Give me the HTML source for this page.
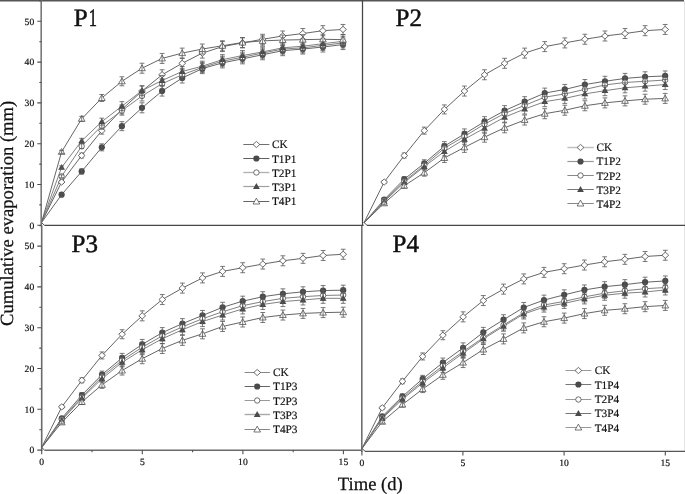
<!DOCTYPE html>
<html><head><meta charset="utf-8"><style>
html,body{margin:0;padding:0;background:#fff;}
body{width:685px;height:494px;overflow:hidden;}
svg{display:block;will-change:transform;}
text{font-family:"Liberation Serif",serif;fill:#111;text-rendering:geometricPrecision;}
.tk{font-size:9.6px;stroke:#111;stroke-width:0.2px;}
.lg{font-size:11.3px;stroke:#111;stroke-width:0.18px;}
.ti{font-size:25px;stroke:#111;stroke-width:0.5px;}
.at{font-size:18.6px;stroke:#111;stroke-width:0.25px;}
</style></head><body>
<svg width="685" height="494" viewBox="0 0 685 494">
<rect width="685" height="494" fill="#fff"/>
<path d="M41.5 222.6 L61.6 182.05 L81.7 155.53 L101.8 130.64 L121.9 109.43 L142 91.07 L162.1 74.75 L182.2 63.32 L202.3 53.12 L222.4 46.6 L242.5 42.92 L262.6 39.25 L282.7 35.99 L302.8 33.54 L322.9 30.68 L343 29.46" fill="none" stroke="#5e5e5e" stroke-width="0.95"/><path d="M41.5 222.6 L61.6 194.7 L81.7 171.44 L101.8 147.37 L121.9 126.16 L142 107.8 L162.1 91.07 L182.2 78.01 L202.3 68.63 L222.4 62.92 L242.5 58.84 L262.6 54.76 L282.7 50.68 L302.8 49.04 L322.9 47 L343 44.56" fill="none" stroke="#5e5e5e" stroke-width="0.95"/><path d="M41.5 222.6 L61.6 176.34 L81.7 146.15 L101.8 125.75 L121.9 110.65 L142 95.96 L162.1 83.72 L182.2 74.75 L202.3 67.4 L222.4 61.28 L242.5 57.2 L262.6 53.12 L282.7 49.04 L302.8 47.82 L322.9 45.37 L343 42.92" fill="none" stroke="#7a7a7a" stroke-width="0.95"/><path d="M41.5 222.6 L61.6 167.36 L81.7 140.84 L101.8 121.67 L121.9 106.16 L142 90.66 L162.1 80.46 L182.2 71.48 L202.3 66.18 L222.4 59.65 L242.5 55.57 L262.6 51.9 L282.7 47.82 L302.8 46.19 L322.9 43.74 L343 41.29" fill="none" stroke="#7a7a7a" stroke-width="0.95"/><path d="M41.5 222.6 L61.6 151.86 L81.7 118.81 L101.8 98 L121.9 81.28 L142 68.22 L162.1 58.43 L182.2 53.12 L202.3 49.04 L222.4 45.78 L242.5 42.52 L262.6 40.88 L282.7 40.07 L302.8 39.66 L322.9 39.25 L343 39.66" fill="none" stroke="#5e5e5e" stroke-width="0.95"/><path d="M61.6 180.55V183.55M59.2 180.55H64M59.2 183.55H64M81.7 153.03V158.03M79.3 153.03H84.1M79.3 158.03H84.1M101.8 127.14V134.14M99.4 127.14H104.2M99.4 134.14H104.2M121.9 104.93V113.93M119.5 104.93H124.3M119.5 113.93H124.3M142 86.07V96.07M139.6 86.07H144.4M139.6 96.07H144.4M162.1 69.75V79.75M159.7 69.75H164.5M159.7 79.75H164.5M182.2 58.32V68.32M179.8 58.32H184.6M179.8 68.32H184.6M202.3 48.12V58.12M199.9 48.12H204.7M199.9 58.12H204.7M222.4 41.6V51.6M220 41.6H224.8M220 51.6H224.8M242.5 37.92V47.92M240.1 37.92H244.9M240.1 47.92H244.9M262.6 34.25V44.25M260.2 34.25H265M260.2 44.25H265M282.7 30.99V40.99M280.3 30.99H285.1M280.3 40.99H285.1M302.8 28.54V38.54M300.4 28.54H305.2M300.4 38.54H305.2M322.9 25.68V35.68M320.5 25.68H325.3M320.5 35.68H325.3M343 24.46V34.46M340.6 24.46H345.4M340.6 34.46H345.4" fill="none" stroke="#585858" stroke-width="0.8"/><path d="M61.6 178.95L65 182.05L61.6 185.15L58.2 182.05Z" fill="#fff" stroke="#4a4a4a" stroke-width="0.8"/><path d="M81.7 152.43L85.1 155.53L81.7 158.63L78.3 155.53Z" fill="#fff" stroke="#4a4a4a" stroke-width="0.8"/><path d="M101.8 127.54L105.2 130.64L101.8 133.74L98.4 130.64Z" fill="#fff" stroke="#4a4a4a" stroke-width="0.8"/><path d="M121.9 106.33L125.3 109.43L121.9 112.53L118.5 109.43Z" fill="#fff" stroke="#4a4a4a" stroke-width="0.8"/><path d="M142 87.97L145.4 91.07L142 94.17L138.6 91.07Z" fill="#fff" stroke="#4a4a4a" stroke-width="0.8"/><path d="M162.1 71.65L165.5 74.75L162.1 77.85L158.7 74.75Z" fill="#fff" stroke="#4a4a4a" stroke-width="0.8"/><path d="M182.2 60.22L185.6 63.32L182.2 66.42L178.8 63.32Z" fill="#fff" stroke="#4a4a4a" stroke-width="0.8"/><path d="M202.3 50.02L205.7 53.12L202.3 56.22L198.9 53.12Z" fill="#fff" stroke="#4a4a4a" stroke-width="0.8"/><path d="M222.4 43.5L225.8 46.6L222.4 49.7L219 46.6Z" fill="#fff" stroke="#4a4a4a" stroke-width="0.8"/><path d="M242.5 39.82L245.9 42.92L242.5 46.02L239.1 42.92Z" fill="#fff" stroke="#4a4a4a" stroke-width="0.8"/><path d="M262.6 36.15L266 39.25L262.6 42.35L259.2 39.25Z" fill="#fff" stroke="#4a4a4a" stroke-width="0.8"/><path d="M282.7 32.89L286.1 35.99L282.7 39.09L279.3 35.99Z" fill="#fff" stroke="#4a4a4a" stroke-width="0.8"/><path d="M302.8 30.44L306.2 33.54L302.8 36.64L299.4 33.54Z" fill="#fff" stroke="#4a4a4a" stroke-width="0.8"/><path d="M322.9 27.58L326.3 30.68L322.9 33.78L319.5 30.68Z" fill="#fff" stroke="#4a4a4a" stroke-width="0.8"/><path d="M343 26.36L346.4 29.46L343 32.56L339.6 29.46Z" fill="#fff" stroke="#4a4a4a" stroke-width="0.8"/><circle cx="61.6" cy="194.7" r="3.1" fill="#4a4a4a"/><circle cx="81.7" cy="171.44" r="3.1" fill="#4a4a4a"/><circle cx="101.8" cy="147.37" r="3.1" fill="#4a4a4a"/><circle cx="121.9" cy="126.16" r="3.1" fill="#4a4a4a"/><circle cx="142" cy="107.8" r="3.1" fill="#4a4a4a"/><circle cx="162.1" cy="91.07" r="3.1" fill="#4a4a4a"/><circle cx="182.2" cy="78.01" r="3.1" fill="#4a4a4a"/><circle cx="202.3" cy="68.63" r="3.1" fill="#4a4a4a"/><circle cx="222.4" cy="62.92" r="3.1" fill="#4a4a4a"/><circle cx="242.5" cy="58.84" r="3.1" fill="#4a4a4a"/><circle cx="262.6" cy="54.76" r="3.1" fill="#4a4a4a"/><circle cx="282.7" cy="50.68" r="3.1" fill="#4a4a4a"/><circle cx="302.8" cy="49.04" r="3.1" fill="#4a4a4a"/><circle cx="322.9" cy="47" r="3.1" fill="#4a4a4a"/><circle cx="343" cy="44.56" r="3.1" fill="#4a4a4a"/><path d="M61.6 193.2V196.2M59.2 193.2H64M59.2 196.2H64M81.7 168.94V173.94M79.3 168.94H84.1M79.3 173.94H84.1M101.8 143.87V150.87M99.4 143.87H104.2M99.4 150.87H104.2M121.9 121.66V130.66M119.5 121.66H124.3M119.5 130.66H124.3M142 102.8V112.8M139.6 102.8H144.4M139.6 112.8H144.4M162.1 86.07V96.07M159.7 86.07H164.5M159.7 96.07H164.5M182.2 73.01V83.01M179.8 73.01H184.6M179.8 83.01H184.6M202.3 63.63V73.63M199.9 63.63H204.7M199.9 73.63H204.7M222.4 57.92V67.92M220 57.92H224.8M220 67.92H224.8M242.5 53.84V63.84M240.1 53.84H244.9M240.1 63.84H244.9M262.6 49.76V59.76M260.2 49.76H265M260.2 59.76H265M282.7 45.68V55.68M280.3 45.68H285.1M280.3 55.68H285.1M302.8 44.04V54.04M300.4 44.04H305.2M300.4 54.04H305.2M322.9 42V52M320.5 42H325.3M320.5 52H325.3M343 39.56V49.56M340.6 39.56H345.4M340.6 49.56H345.4" fill="none" stroke="#585858" stroke-width="0.8"/><circle cx="61.6" cy="176.34" r="2.7" fill="#fff" stroke="#4a4a4a" stroke-width="0.8"/><circle cx="81.7" cy="146.15" r="2.7" fill="#fff" stroke="#4a4a4a" stroke-width="0.8"/><circle cx="101.8" cy="125.75" r="2.7" fill="#fff" stroke="#4a4a4a" stroke-width="0.8"/><circle cx="121.9" cy="110.65" r="2.7" fill="#fff" stroke="#4a4a4a" stroke-width="0.8"/><circle cx="142" cy="95.96" r="2.7" fill="#fff" stroke="#4a4a4a" stroke-width="0.8"/><circle cx="162.1" cy="83.72" r="2.7" fill="#fff" stroke="#4a4a4a" stroke-width="0.8"/><circle cx="182.2" cy="74.75" r="2.7" fill="#fff" stroke="#4a4a4a" stroke-width="0.8"/><circle cx="202.3" cy="67.4" r="2.7" fill="#fff" stroke="#4a4a4a" stroke-width="0.8"/><circle cx="222.4" cy="61.28" r="2.7" fill="#fff" stroke="#4a4a4a" stroke-width="0.8"/><circle cx="242.5" cy="57.2" r="2.7" fill="#fff" stroke="#4a4a4a" stroke-width="0.8"/><circle cx="262.6" cy="53.12" r="2.7" fill="#fff" stroke="#4a4a4a" stroke-width="0.8"/><circle cx="282.7" cy="49.04" r="2.7" fill="#fff" stroke="#4a4a4a" stroke-width="0.8"/><circle cx="302.8" cy="47.82" r="2.7" fill="#fff" stroke="#4a4a4a" stroke-width="0.8"/><circle cx="322.9" cy="45.37" r="2.7" fill="#fff" stroke="#4a4a4a" stroke-width="0.8"/><circle cx="343" cy="42.92" r="2.7" fill="#fff" stroke="#4a4a4a" stroke-width="0.8"/><path d="M61.6 174.84V177.84M59.2 174.84H64M59.2 177.84H64M81.7 143.65V148.65M79.3 143.65H84.1M79.3 148.65H84.1M101.8 122.25V129.25M99.4 122.25H104.2M99.4 129.25H104.2M121.9 106.15V115.15M119.5 106.15H124.3M119.5 115.15H124.3M142 90.96V100.96M139.6 90.96H144.4M139.6 100.96H144.4M162.1 78.72V88.72M159.7 78.72H164.5M159.7 88.72H164.5M182.2 69.75V79.75M179.8 69.75H184.6M179.8 79.75H184.6M202.3 62.4V72.4M199.9 62.4H204.7M199.9 72.4H204.7M222.4 56.28V66.28M220 56.28H224.8M220 66.28H224.8M242.5 52.2V62.2M240.1 52.2H244.9M240.1 62.2H244.9M262.6 48.12V58.12M260.2 48.12H265M260.2 58.12H265M282.7 44.04V54.04M280.3 44.04H285.1M280.3 54.04H285.1M302.8 42.82V52.82M300.4 42.82H305.2M300.4 52.82H305.2M322.9 40.37V50.37M320.5 40.37H325.3M320.5 50.37H325.3M343 37.92V47.92M340.6 37.92H345.4M340.6 47.92H345.4" fill="none" stroke="#585858" stroke-width="0.8"/><path d="M61.6 163.96L65 169.81L58.2 169.81Z" fill="#4a4a4a"/><path d="M81.7 137.44L85.1 143.29L78.3 143.29Z" fill="#4a4a4a"/><path d="M101.8 118.27L105.2 124.12L98.4 124.12Z" fill="#4a4a4a"/><path d="M121.9 102.76L125.3 108.61L118.5 108.61Z" fill="#4a4a4a"/><path d="M142 87.26L145.4 93.11L138.6 93.11Z" fill="#4a4a4a"/><path d="M162.1 77.06L165.5 82.91L158.7 82.91Z" fill="#4a4a4a"/><path d="M182.2 68.08L185.6 73.93L178.8 73.93Z" fill="#4a4a4a"/><path d="M202.3 62.78L205.7 68.63L198.9 68.63Z" fill="#4a4a4a"/><path d="M222.4 56.25L225.8 62.1L219 62.1Z" fill="#4a4a4a"/><path d="M242.5 52.17L245.9 58.02L239.1 58.02Z" fill="#4a4a4a"/><path d="M262.6 48.5L266 54.35L259.2 54.35Z" fill="#4a4a4a"/><path d="M282.7 44.42L286.1 50.27L279.3 50.27Z" fill="#4a4a4a"/><path d="M302.8 42.79L306.2 48.64L299.4 48.64Z" fill="#4a4a4a"/><path d="M322.9 40.34L326.3 46.19L319.5 46.19Z" fill="#4a4a4a"/><path d="M343 37.89L346.4 43.74L339.6 43.74Z" fill="#4a4a4a"/><path d="M61.6 165.86V168.86M59.2 165.86H64M59.2 168.86H64M81.7 138.34V143.34M79.3 138.34H84.1M79.3 143.34H84.1M101.8 118.17V125.17M99.4 118.17H104.2M99.4 125.17H104.2M121.9 101.66V110.66M119.5 101.66H124.3M119.5 110.66H124.3M142 85.66V95.66M139.6 85.66H144.4M139.6 95.66H144.4M162.1 75.46V85.46M159.7 75.46H164.5M159.7 85.46H164.5M182.2 66.48V76.48M179.8 66.48H184.6M179.8 76.48H184.6M202.3 61.18V71.18M199.9 61.18H204.7M199.9 71.18H204.7M222.4 54.65V64.65M220 54.65H224.8M220 64.65H224.8M242.5 50.57V60.57M240.1 50.57H244.9M240.1 60.57H244.9M262.6 46.9V56.9M260.2 46.9H265M260.2 56.9H265M282.7 42.82V52.82M280.3 42.82H285.1M280.3 52.82H285.1M302.8 41.19V51.19M300.4 41.19H305.2M300.4 51.19H305.2M322.9 38.74V48.74M320.5 38.74H325.3M320.5 48.74H325.3M343 36.29V46.29M340.6 36.29H345.4M340.6 46.29H345.4" fill="none" stroke="#585858" stroke-width="0.8"/><path d="M61.6 148.51L64.95 154.37L58.25 154.37Z" fill="#fff" stroke="#4a4a4a" stroke-width="0.75"/><path d="M81.7 115.46L85.05 121.32L78.35 121.32Z" fill="#fff" stroke="#4a4a4a" stroke-width="0.75"/><path d="M101.8 94.65L105.15 100.52L98.45 100.52Z" fill="#fff" stroke="#4a4a4a" stroke-width="0.75"/><path d="M121.9 77.93L125.25 83.79L118.55 83.79Z" fill="#fff" stroke="#4a4a4a" stroke-width="0.75"/><path d="M142 64.87L145.35 70.73L138.65 70.73Z" fill="#fff" stroke="#4a4a4a" stroke-width="0.75"/><path d="M162.1 55.08L165.45 60.94L158.75 60.94Z" fill="#fff" stroke="#4a4a4a" stroke-width="0.75"/><path d="M182.2 49.77L185.55 55.64L178.85 55.64Z" fill="#fff" stroke="#4a4a4a" stroke-width="0.75"/><path d="M202.3 45.69L205.65 51.56L198.95 51.56Z" fill="#fff" stroke="#4a4a4a" stroke-width="0.75"/><path d="M222.4 42.43L225.75 48.29L219.05 48.29Z" fill="#fff" stroke="#4a4a4a" stroke-width="0.75"/><path d="M242.5 39.17L245.85 45.03L239.15 45.03Z" fill="#fff" stroke="#4a4a4a" stroke-width="0.75"/><path d="M262.6 37.53L265.95 43.4L259.25 43.4Z" fill="#fff" stroke="#4a4a4a" stroke-width="0.75"/><path d="M282.7 36.72L286.05 42.58L279.35 42.58Z" fill="#fff" stroke="#4a4a4a" stroke-width="0.75"/><path d="M302.8 36.31L306.15 42.17L299.45 42.17Z" fill="#fff" stroke="#4a4a4a" stroke-width="0.75"/><path d="M322.9 35.9L326.25 41.76L319.55 41.76Z" fill="#fff" stroke="#4a4a4a" stroke-width="0.75"/><path d="M343 36.31L346.35 42.17L339.65 42.17Z" fill="#fff" stroke="#4a4a4a" stroke-width="0.75"/><path d="M61.6 150.36V153.36M59.2 150.36H64M59.2 153.36H64M81.7 116.31V121.31M79.3 116.31H84.1M79.3 121.31H84.1M101.8 94.5V101.5M99.4 94.5H104.2M99.4 101.5H104.2M121.9 76.78V85.78M119.5 76.78H124.3M119.5 85.78H124.3M142 63.22V73.22M139.6 63.22H144.4M139.6 73.22H144.4M162.1 53.43V63.43M159.7 53.43H164.5M159.7 63.43H164.5M182.2 48.12V58.12M179.8 48.12H184.6M179.8 58.12H184.6M202.3 44.04V54.04M199.9 44.04H204.7M199.9 54.04H204.7M222.4 40.78V50.78M220 40.78H224.8M220 50.78H224.8M242.5 37.52V47.52M240.1 37.52H244.9M240.1 47.52H244.9M262.6 35.88V45.88M260.2 35.88H265M260.2 45.88H265M282.7 35.07V45.07M280.3 35.07H285.1M280.3 45.07H285.1M302.8 34.66V44.66M300.4 34.66H305.2M300.4 44.66H305.2M322.9 34.25V44.25M320.5 34.25H325.3M320.5 44.25H325.3M343 34.66V44.66M340.6 34.66H345.4M340.6 44.66H345.4" fill="none" stroke="#585858" stroke-width="0.8"/><path d="M364.1 222.6 L384.17 182.05 L404.24 155.53 L424.31 130.64 L444.38 109.43 L464.45 91.07 L484.52 74.75 L504.59 63.32 L524.66 53.12 L544.73 46.6 L564.8 42.92 L584.87 39.25 L604.94 35.99 L625.01 33.54 L645.08 30.68 L665.15 29.46" fill="none" stroke="#5e5e5e" stroke-width="0.95"/><path d="M364.1 222.6 L384.17 199.6 L404.24 179.2 L424.31 163.28 L444.38 146.15 L464.45 133.91 L484.52 121.67 L504.59 110.65 L524.66 101.68 L544.73 93.11 L564.8 89.44 L584.87 84.54 L604.94 81.28 L625.01 78.42 L645.08 76.79 L665.15 75.97" fill="none" stroke="#5e5e5e" stroke-width="0.95"/><path d="M364.1 222.6 L384.17 200.82 L404.24 181.24 L424.31 165.32 L444.38 148.19 L464.45 136.36 L484.52 124.12 L504.59 113.51 L524.66 105.35 L544.73 97.19 L564.8 93.92 L584.87 89.44 L604.94 84.95 L625.01 82.5 L645.08 81.28 L665.15 80.05" fill="none" stroke="#7a7a7a" stroke-width="0.95"/><path d="M364.1 222.6 L384.17 201.64 L404.24 182.46 L424.31 166.55 L444.38 151.45 L464.45 139.21 L484.52 128.2 L504.59 117.18 L524.66 109.02 L544.73 101.68 L564.8 98.41 L584.87 93.92 L604.94 90.66 L625.01 87.8 L645.08 86.17 L665.15 84.54" fill="none" stroke="#7a7a7a" stroke-width="0.95"/><path d="M364.1 222.6 L384.17 203.27 L404.24 185.72 L424.31 172.67 L444.38 157.98 L464.45 147.37 L484.52 137.17 L504.59 127.79 L524.66 120.04 L544.73 113.71 L564.8 110.24 L584.87 105.76 L604.94 102.9 L625.01 100.86 L645.08 99.23 L665.15 98.41" fill="none" stroke="#5e5e5e" stroke-width="0.95"/><path d="M384.17 180.55V183.55M381.77 180.55H386.57M381.77 183.55H386.57M404.24 153.03V158.03M401.84 153.03H406.64M401.84 158.03H406.64M424.31 127.14V134.14M421.91 127.14H426.71M421.91 134.14H426.71M444.38 104.93V113.93M441.98 104.93H446.78M441.98 113.93H446.78M464.45 86.07V96.07M462.05 86.07H466.85M462.05 96.07H466.85M484.52 69.75V79.75M482.12 69.75H486.92M482.12 79.75H486.92M504.59 58.32V68.32M502.19 58.32H506.99M502.19 68.32H506.99M524.66 48.12V58.12M522.26 48.12H527.06M522.26 58.12H527.06M544.73 41.6V51.6M542.33 41.6H547.13M542.33 51.6H547.13M564.8 37.92V47.92M562.4 37.92H567.2M562.4 47.92H567.2M584.87 34.25V44.25M582.47 34.25H587.27M582.47 44.25H587.27M604.94 30.99V40.99M602.54 30.99H607.34M602.54 40.99H607.34M625.01 28.54V38.54M622.61 28.54H627.41M622.61 38.54H627.41M645.08 25.68V35.68M642.68 25.68H647.48M642.68 35.68H647.48M665.15 24.46V34.46M662.75 24.46H667.55M662.75 34.46H667.55" fill="none" stroke="#585858" stroke-width="0.8"/><path d="M384.17 178.95L387.57 182.05L384.17 185.15L380.77 182.05Z" fill="#fff" stroke="#4a4a4a" stroke-width="0.8"/><path d="M404.24 152.43L407.64 155.53L404.24 158.63L400.84 155.53Z" fill="#fff" stroke="#4a4a4a" stroke-width="0.8"/><path d="M424.31 127.54L427.71 130.64L424.31 133.74L420.91 130.64Z" fill="#fff" stroke="#4a4a4a" stroke-width="0.8"/><path d="M444.38 106.33L447.78 109.43L444.38 112.53L440.98 109.43Z" fill="#fff" stroke="#4a4a4a" stroke-width="0.8"/><path d="M464.45 87.97L467.85 91.07L464.45 94.17L461.05 91.07Z" fill="#fff" stroke="#4a4a4a" stroke-width="0.8"/><path d="M484.52 71.65L487.92 74.75L484.52 77.85L481.12 74.75Z" fill="#fff" stroke="#4a4a4a" stroke-width="0.8"/><path d="M504.59 60.22L507.99 63.32L504.59 66.42L501.19 63.32Z" fill="#fff" stroke="#4a4a4a" stroke-width="0.8"/><path d="M524.66 50.02L528.06 53.12L524.66 56.22L521.26 53.12Z" fill="#fff" stroke="#4a4a4a" stroke-width="0.8"/><path d="M544.73 43.5L548.13 46.6L544.73 49.7L541.33 46.6Z" fill="#fff" stroke="#4a4a4a" stroke-width="0.8"/><path d="M564.8 39.82L568.2 42.92L564.8 46.02L561.4 42.92Z" fill="#fff" stroke="#4a4a4a" stroke-width="0.8"/><path d="M584.87 36.15L588.27 39.25L584.87 42.35L581.47 39.25Z" fill="#fff" stroke="#4a4a4a" stroke-width="0.8"/><path d="M604.94 32.89L608.34 35.99L604.94 39.09L601.54 35.99Z" fill="#fff" stroke="#4a4a4a" stroke-width="0.8"/><path d="M625.01 30.44L628.41 33.54L625.01 36.64L621.61 33.54Z" fill="#fff" stroke="#4a4a4a" stroke-width="0.8"/><path d="M645.08 27.58L648.48 30.68L645.08 33.78L641.68 30.68Z" fill="#fff" stroke="#4a4a4a" stroke-width="0.8"/><path d="M665.15 26.36L668.55 29.46L665.15 32.56L661.75 29.46Z" fill="#fff" stroke="#4a4a4a" stroke-width="0.8"/><circle cx="384.17" cy="199.6" r="3.1" fill="#4a4a4a"/><circle cx="404.24" cy="179.2" r="3.1" fill="#4a4a4a"/><circle cx="424.31" cy="163.28" r="3.1" fill="#4a4a4a"/><circle cx="444.38" cy="146.15" r="3.1" fill="#4a4a4a"/><circle cx="464.45" cy="133.91" r="3.1" fill="#4a4a4a"/><circle cx="484.52" cy="121.67" r="3.1" fill="#4a4a4a"/><circle cx="504.59" cy="110.65" r="3.1" fill="#4a4a4a"/><circle cx="524.66" cy="101.68" r="3.1" fill="#4a4a4a"/><circle cx="544.73" cy="93.11" r="3.1" fill="#4a4a4a"/><circle cx="564.8" cy="89.44" r="3.1" fill="#4a4a4a"/><circle cx="584.87" cy="84.54" r="3.1" fill="#4a4a4a"/><circle cx="604.94" cy="81.28" r="3.1" fill="#4a4a4a"/><circle cx="625.01" cy="78.42" r="3.1" fill="#4a4a4a"/><circle cx="645.08" cy="76.79" r="3.1" fill="#4a4a4a"/><circle cx="665.15" cy="75.97" r="3.1" fill="#4a4a4a"/><path d="M384.17 198.1V201.1M381.77 198.1H386.57M381.77 201.1H386.57M404.24 176.7V181.7M401.84 176.7H406.64M401.84 181.7H406.64M424.31 159.78V166.78M421.91 159.78H426.71M421.91 166.78H426.71M444.38 141.65V150.65M441.98 141.65H446.78M441.98 150.65H446.78M464.45 128.91V138.91M462.05 128.91H466.85M462.05 138.91H466.85M484.52 116.67V126.67M482.12 116.67H486.92M482.12 126.67H486.92M504.59 105.65V115.65M502.19 105.65H506.99M502.19 115.65H506.99M524.66 96.68V106.68M522.26 96.68H527.06M522.26 106.68H527.06M544.73 88.11V98.11M542.33 88.11H547.13M542.33 98.11H547.13M564.8 84.44V94.44M562.4 84.44H567.2M562.4 94.44H567.2M584.87 79.54V89.54M582.47 79.54H587.27M582.47 89.54H587.27M604.94 76.28V86.28M602.54 76.28H607.34M602.54 86.28H607.34M625.01 73.42V83.42M622.61 73.42H627.41M622.61 83.42H627.41M645.08 71.79V81.79M642.68 71.79H647.48M642.68 81.79H647.48M665.15 70.97V80.97M662.75 70.97H667.55M662.75 80.97H667.55" fill="none" stroke="#585858" stroke-width="0.8"/><circle cx="384.17" cy="200.82" r="2.7" fill="#fff" stroke="#4a4a4a" stroke-width="0.8"/><circle cx="404.24" cy="181.24" r="2.7" fill="#fff" stroke="#4a4a4a" stroke-width="0.8"/><circle cx="424.31" cy="165.32" r="2.7" fill="#fff" stroke="#4a4a4a" stroke-width="0.8"/><circle cx="444.38" cy="148.19" r="2.7" fill="#fff" stroke="#4a4a4a" stroke-width="0.8"/><circle cx="464.45" cy="136.36" r="2.7" fill="#fff" stroke="#4a4a4a" stroke-width="0.8"/><circle cx="484.52" cy="124.12" r="2.7" fill="#fff" stroke="#4a4a4a" stroke-width="0.8"/><circle cx="504.59" cy="113.51" r="2.7" fill="#fff" stroke="#4a4a4a" stroke-width="0.8"/><circle cx="524.66" cy="105.35" r="2.7" fill="#fff" stroke="#4a4a4a" stroke-width="0.8"/><circle cx="544.73" cy="97.19" r="2.7" fill="#fff" stroke="#4a4a4a" stroke-width="0.8"/><circle cx="564.8" cy="93.92" r="2.7" fill="#fff" stroke="#4a4a4a" stroke-width="0.8"/><circle cx="584.87" cy="89.44" r="2.7" fill="#fff" stroke="#4a4a4a" stroke-width="0.8"/><circle cx="604.94" cy="84.95" r="2.7" fill="#fff" stroke="#4a4a4a" stroke-width="0.8"/><circle cx="625.01" cy="82.5" r="2.7" fill="#fff" stroke="#4a4a4a" stroke-width="0.8"/><circle cx="645.08" cy="81.28" r="2.7" fill="#fff" stroke="#4a4a4a" stroke-width="0.8"/><circle cx="665.15" cy="80.05" r="2.7" fill="#fff" stroke="#4a4a4a" stroke-width="0.8"/><path d="M384.17 199.32V202.32M381.77 199.32H386.57M381.77 202.32H386.57M404.24 178.74V183.74M401.84 178.74H406.64M401.84 183.74H406.64M424.31 161.82V168.82M421.91 161.82H426.71M421.91 168.82H426.71M444.38 143.69V152.69M441.98 143.69H446.78M441.98 152.69H446.78M464.45 131.36V141.36M462.05 131.36H466.85M462.05 141.36H466.85M484.52 119.12V129.12M482.12 119.12H486.92M482.12 129.12H486.92M504.59 108.51V118.51M502.19 108.51H506.99M502.19 118.51H506.99M524.66 100.35V110.35M522.26 100.35H527.06M522.26 110.35H527.06M544.73 92.19V102.19M542.33 92.19H547.13M542.33 102.19H547.13M564.8 88.92V98.92M562.4 88.92H567.2M562.4 98.92H567.2M584.87 84.44V94.44M582.47 84.44H587.27M582.47 94.44H587.27M604.94 79.95V89.95M602.54 79.95H607.34M602.54 89.95H607.34M625.01 77.5V87.5M622.61 77.5H627.41M622.61 87.5H627.41M645.08 76.28V86.28M642.68 76.28H647.48M642.68 86.28H647.48M665.15 75.05V85.05M662.75 75.05H667.55M662.75 85.05H667.55" fill="none" stroke="#585858" stroke-width="0.8"/><path d="M384.17 198.24L387.57 204.08L380.77 204.08Z" fill="#4a4a4a"/><path d="M404.24 179.06L407.64 184.91L400.84 184.91Z" fill="#4a4a4a"/><path d="M424.31 163.15L427.71 169L420.91 169Z" fill="#4a4a4a"/><path d="M444.38 148.05L447.78 153.9L440.98 153.9Z" fill="#4a4a4a"/><path d="M464.45 135.81L467.85 141.66L461.05 141.66Z" fill="#4a4a4a"/><path d="M484.52 124.8L487.92 130.64L481.12 130.64Z" fill="#4a4a4a"/><path d="M504.59 113.78L507.99 119.63L501.19 119.63Z" fill="#4a4a4a"/><path d="M524.66 105.62L528.06 111.47L521.26 111.47Z" fill="#4a4a4a"/><path d="M544.73 98.28L548.13 104.12L541.33 104.12Z" fill="#4a4a4a"/><path d="M564.8 95.01L568.2 100.86L561.4 100.86Z" fill="#4a4a4a"/><path d="M584.87 90.52L588.27 96.37L581.47 96.37Z" fill="#4a4a4a"/><path d="M604.94 87.26L608.34 93.11L601.54 93.11Z" fill="#4a4a4a"/><path d="M625.01 84.4L628.41 90.25L621.61 90.25Z" fill="#4a4a4a"/><path d="M645.08 82.77L648.48 88.62L641.68 88.62Z" fill="#4a4a4a"/><path d="M665.15 81.14L668.55 86.99L661.75 86.99Z" fill="#4a4a4a"/><path d="M384.17 200.14V203.14M381.77 200.14H386.57M381.77 203.14H386.57M404.24 179.96V184.96M401.84 179.96H406.64M401.84 184.96H406.64M424.31 163.05V170.05M421.91 163.05H426.71M421.91 170.05H426.71M444.38 146.95V155.95M441.98 146.95H446.78M441.98 155.95H446.78M464.45 134.21V144.21M462.05 134.21H466.85M462.05 144.21H466.85M484.52 123.2V133.2M482.12 123.2H486.92M482.12 133.2H486.92M504.59 112.18V122.18M502.19 112.18H506.99M502.19 122.18H506.99M524.66 104.02V114.02M522.26 104.02H527.06M522.26 114.02H527.06M544.73 96.68V106.68M542.33 96.68H547.13M542.33 106.68H547.13M564.8 93.41V103.41M562.4 93.41H567.2M562.4 103.41H567.2M584.87 88.92V98.92M582.47 88.92H587.27M582.47 98.92H587.27M604.94 85.66V95.66M602.54 85.66H607.34M602.54 95.66H607.34M625.01 82.8V92.8M622.61 82.8H627.41M622.61 92.8H627.41M645.08 81.17V91.17M642.68 81.17H647.48M642.68 91.17H647.48M665.15 79.54V89.54M662.75 79.54H667.55M662.75 89.54H667.55" fill="none" stroke="#585858" stroke-width="0.8"/><path d="M384.17 199.92L387.52 205.78L380.82 205.78Z" fill="#fff" stroke="#4a4a4a" stroke-width="0.75"/><path d="M404.24 182.37L407.59 188.24L400.89 188.24Z" fill="#fff" stroke="#4a4a4a" stroke-width="0.75"/><path d="M424.31 169.32L427.66 175.18L420.96 175.18Z" fill="#fff" stroke="#4a4a4a" stroke-width="0.75"/><path d="M444.38 154.63L447.73 160.49L441.03 160.49Z" fill="#fff" stroke="#4a4a4a" stroke-width="0.75"/><path d="M464.45 144.02L467.8 149.88L461.1 149.88Z" fill="#fff" stroke="#4a4a4a" stroke-width="0.75"/><path d="M484.52 133.82L487.87 139.68L481.17 139.68Z" fill="#fff" stroke="#4a4a4a" stroke-width="0.75"/><path d="M504.59 124.44L507.94 130.3L501.24 130.3Z" fill="#fff" stroke="#4a4a4a" stroke-width="0.75"/><path d="M524.66 116.69L528.01 122.55L521.31 122.55Z" fill="#fff" stroke="#4a4a4a" stroke-width="0.75"/><path d="M544.73 110.36L548.08 116.22L541.38 116.22Z" fill="#fff" stroke="#4a4a4a" stroke-width="0.75"/><path d="M564.8 106.89L568.15 112.76L561.45 112.76Z" fill="#fff" stroke="#4a4a4a" stroke-width="0.75"/><path d="M584.87 102.41L588.22 108.27L581.52 108.27Z" fill="#fff" stroke="#4a4a4a" stroke-width="0.75"/><path d="M604.94 99.55L608.29 105.41L601.59 105.41Z" fill="#fff" stroke="#4a4a4a" stroke-width="0.75"/><path d="M625.01 97.51L628.36 103.37L621.66 103.37Z" fill="#fff" stroke="#4a4a4a" stroke-width="0.75"/><path d="M645.08 95.88L648.43 101.74L641.73 101.74Z" fill="#fff" stroke="#4a4a4a" stroke-width="0.75"/><path d="M665.15 95.06L668.5 100.92L661.8 100.92Z" fill="#fff" stroke="#4a4a4a" stroke-width="0.75"/><path d="M384.17 201.77V204.77M381.77 201.77H386.57M381.77 204.77H386.57M404.24 183.22V188.22M401.84 183.22H406.64M401.84 188.22H406.64M424.31 169.17V176.17M421.91 169.17H426.71M421.91 176.17H426.71M444.38 153.48V162.48M441.98 153.48H446.78M441.98 162.48H446.78M464.45 142.37V152.37M462.05 142.37H466.85M462.05 152.37H466.85M484.52 132.17V142.17M482.12 132.17H486.92M482.12 142.17H486.92M504.59 122.79V132.79M502.19 122.79H506.99M502.19 132.79H506.99M524.66 115.04V125.04M522.26 115.04H527.06M522.26 125.04H527.06M544.73 108.71V118.71M542.33 108.71H547.13M542.33 118.71H547.13M564.8 105.24V115.24M562.4 105.24H567.2M562.4 115.24H567.2M584.87 100.76V110.76M582.47 100.76H587.27M582.47 110.76H587.27M604.94 97.9V107.9M602.54 97.9H607.34M602.54 107.9H607.34M625.01 95.86V105.86M622.61 95.86H627.41M622.61 105.86H627.41M645.08 94.23V104.23M642.68 94.23H647.48M642.68 104.23H647.48M665.15 93.41V103.41M662.75 93.41H667.55M662.75 103.41H667.55" fill="none" stroke="#585858" stroke-width="0.8"/><path d="M41.7 447.4 L61.8 406.85 L81.9 380.33 L102 355.44 L122.1 334.23 L142.2 315.87 L162.3 299.55 L182.4 288.12 L202.5 277.92 L222.6 271.4 L242.7 267.72 L262.8 264.05 L282.9 260.79 L303 258.34 L323.1 255.48 L343.2 254.26" fill="none" stroke="#5e5e5e" stroke-width="0.95"/><path d="M41.7 447.4 L61.8 418.28 L81.9 395.02 L102 374.62 L122.1 357.89 L142.2 344.43 L162.3 332.6 L182.4 323.62 L202.5 315.46 L222.6 307.3 L242.7 301.18 L262.8 296.69 L282.9 293.84 L303 291.8 L323.1 290.57 L343.2 290.16" fill="none" stroke="#5e5e5e" stroke-width="0.95"/><path d="M41.7 447.4 L61.8 419.5 L81.9 397.06 L102 376.66 L122.1 360.34 L142.2 347.28 L162.3 335.86 L182.4 326.88 L202.5 318.72 L222.6 311.79 L242.7 305.67 L262.8 301.59 L282.9 298.32 L303 296.69 L323.1 295.47 L343.2 295.06" fill="none" stroke="#7a7a7a" stroke-width="0.95"/><path d="M41.7 447.4 L61.8 420.32 L81.9 398.28 L102 378.7 L122.1 362.38 L142.2 349.73 L162.3 338.72 L182.4 329.74 L202.5 321.58 L222.6 315.05 L242.7 308.93 L262.8 304.44 L282.9 301.59 L303 299.96 L323.1 298.32 L343.2 298.32" fill="none" stroke="#7a7a7a" stroke-width="0.95"/><path d="M41.7 447.4 L61.8 422.36 L81.9 401.96 L102 384.82 L122.1 370.54 L142.2 358.71 L162.3 348.51 L182.4 340.35 L202.5 333.82 L222.6 326.48 L242.7 321.99 L262.8 317.5 L282.9 315.05 L303 313.42 L323.1 312.6 L343.2 312.2" fill="none" stroke="#5e5e5e" stroke-width="0.95"/><path d="M61.8 405.35V408.35M59.4 405.35H64.2M59.4 408.35H64.2M81.9 377.83V382.83M79.5 377.83H84.3M79.5 382.83H84.3M102 351.94V358.94M99.6 351.94H104.4M99.6 358.94H104.4M122.1 329.73V338.73M119.7 329.73H124.5M119.7 338.73H124.5M142.2 310.87V320.87M139.8 310.87H144.6M139.8 320.87H144.6M162.3 294.55V304.55M159.9 294.55H164.7M159.9 304.55H164.7M182.4 283.12V293.12M180 283.12H184.8M180 293.12H184.8M202.5 272.92V282.92M200.1 272.92H204.9M200.1 282.92H204.9M222.6 266.4V276.4M220.2 266.4H225M220.2 276.4H225M242.7 262.72V272.72M240.3 262.72H245.1M240.3 272.72H245.1M262.8 259.05V269.05M260.4 259.05H265.2M260.4 269.05H265.2M282.9 255.79V265.79M280.5 255.79H285.3M280.5 265.79H285.3M303 253.34V263.34M300.6 253.34H305.4M300.6 263.34H305.4M323.1 250.48V260.48M320.7 250.48H325.5M320.7 260.48H325.5M343.2 249.26V259.26M340.8 249.26H345.6M340.8 259.26H345.6" fill="none" stroke="#585858" stroke-width="0.8"/><path d="M61.8 403.75L65.2 406.85L61.8 409.95L58.4 406.85Z" fill="#fff" stroke="#4a4a4a" stroke-width="0.8"/><path d="M81.9 377.23L85.3 380.33L81.9 383.43L78.5 380.33Z" fill="#fff" stroke="#4a4a4a" stroke-width="0.8"/><path d="M102 352.34L105.4 355.44L102 358.54L98.6 355.44Z" fill="#fff" stroke="#4a4a4a" stroke-width="0.8"/><path d="M122.1 331.13L125.5 334.23L122.1 337.33L118.7 334.23Z" fill="#fff" stroke="#4a4a4a" stroke-width="0.8"/><path d="M142.2 312.77L145.6 315.87L142.2 318.97L138.8 315.87Z" fill="#fff" stroke="#4a4a4a" stroke-width="0.8"/><path d="M162.3 296.45L165.7 299.55L162.3 302.65L158.9 299.55Z" fill="#fff" stroke="#4a4a4a" stroke-width="0.8"/><path d="M182.4 285.02L185.8 288.12L182.4 291.22L179 288.12Z" fill="#fff" stroke="#4a4a4a" stroke-width="0.8"/><path d="M202.5 274.82L205.9 277.92L202.5 281.02L199.1 277.92Z" fill="#fff" stroke="#4a4a4a" stroke-width="0.8"/><path d="M222.6 268.3L226 271.4L222.6 274.5L219.2 271.4Z" fill="#fff" stroke="#4a4a4a" stroke-width="0.8"/><path d="M242.7 264.62L246.1 267.72L242.7 270.82L239.3 267.72Z" fill="#fff" stroke="#4a4a4a" stroke-width="0.8"/><path d="M262.8 260.95L266.2 264.05L262.8 267.15L259.4 264.05Z" fill="#fff" stroke="#4a4a4a" stroke-width="0.8"/><path d="M282.9 257.69L286.3 260.79L282.9 263.89L279.5 260.79Z" fill="#fff" stroke="#4a4a4a" stroke-width="0.8"/><path d="M303 255.24L306.4 258.34L303 261.44L299.6 258.34Z" fill="#fff" stroke="#4a4a4a" stroke-width="0.8"/><path d="M323.1 252.38L326.5 255.48L323.1 258.58L319.7 255.48Z" fill="#fff" stroke="#4a4a4a" stroke-width="0.8"/><path d="M343.2 251.16L346.6 254.26L343.2 257.36L339.8 254.26Z" fill="#fff" stroke="#4a4a4a" stroke-width="0.8"/><circle cx="61.8" cy="418.28" r="3.1" fill="#4a4a4a"/><circle cx="81.9" cy="395.02" r="3.1" fill="#4a4a4a"/><circle cx="102" cy="374.62" r="3.1" fill="#4a4a4a"/><circle cx="122.1" cy="357.89" r="3.1" fill="#4a4a4a"/><circle cx="142.2" cy="344.43" r="3.1" fill="#4a4a4a"/><circle cx="162.3" cy="332.6" r="3.1" fill="#4a4a4a"/><circle cx="182.4" cy="323.62" r="3.1" fill="#4a4a4a"/><circle cx="202.5" cy="315.46" r="3.1" fill="#4a4a4a"/><circle cx="222.6" cy="307.3" r="3.1" fill="#4a4a4a"/><circle cx="242.7" cy="301.18" r="3.1" fill="#4a4a4a"/><circle cx="262.8" cy="296.69" r="3.1" fill="#4a4a4a"/><circle cx="282.9" cy="293.84" r="3.1" fill="#4a4a4a"/><circle cx="303" cy="291.8" r="3.1" fill="#4a4a4a"/><circle cx="323.1" cy="290.57" r="3.1" fill="#4a4a4a"/><circle cx="343.2" cy="290.16" r="3.1" fill="#4a4a4a"/><path d="M61.8 416.78V419.78M59.4 416.78H64.2M59.4 419.78H64.2M81.9 392.52V397.52M79.5 392.52H84.3M79.5 397.52H84.3M102 371.12V378.12M99.6 371.12H104.4M99.6 378.12H104.4M122.1 353.39V362.39M119.7 353.39H124.5M119.7 362.39H124.5M142.2 339.43V349.43M139.8 339.43H144.6M139.8 349.43H144.6M162.3 327.6V337.6M159.9 327.6H164.7M159.9 337.6H164.7M182.4 318.62V328.62M180 318.62H184.8M180 328.62H184.8M202.5 310.46V320.46M200.1 310.46H204.9M200.1 320.46H204.9M222.6 302.3V312.3M220.2 302.3H225M220.2 312.3H225M242.7 296.18V306.18M240.3 296.18H245.1M240.3 306.18H245.1M262.8 291.69V301.69M260.4 291.69H265.2M260.4 301.69H265.2M282.9 288.84V298.84M280.5 288.84H285.3M280.5 298.84H285.3M303 286.8V296.8M300.6 286.8H305.4M300.6 296.8H305.4M323.1 285.57V295.57M320.7 285.57H325.5M320.7 295.57H325.5M343.2 285.16V295.16M340.8 285.16H345.6M340.8 295.16H345.6" fill="none" stroke="#585858" stroke-width="0.8"/><circle cx="61.8" cy="419.5" r="2.7" fill="#fff" stroke="#4a4a4a" stroke-width="0.8"/><circle cx="81.9" cy="397.06" r="2.7" fill="#fff" stroke="#4a4a4a" stroke-width="0.8"/><circle cx="102" cy="376.66" r="2.7" fill="#fff" stroke="#4a4a4a" stroke-width="0.8"/><circle cx="122.1" cy="360.34" r="2.7" fill="#fff" stroke="#4a4a4a" stroke-width="0.8"/><circle cx="142.2" cy="347.28" r="2.7" fill="#fff" stroke="#4a4a4a" stroke-width="0.8"/><circle cx="162.3" cy="335.86" r="2.7" fill="#fff" stroke="#4a4a4a" stroke-width="0.8"/><circle cx="182.4" cy="326.88" r="2.7" fill="#fff" stroke="#4a4a4a" stroke-width="0.8"/><circle cx="202.5" cy="318.72" r="2.7" fill="#fff" stroke="#4a4a4a" stroke-width="0.8"/><circle cx="222.6" cy="311.79" r="2.7" fill="#fff" stroke="#4a4a4a" stroke-width="0.8"/><circle cx="242.7" cy="305.67" r="2.7" fill="#fff" stroke="#4a4a4a" stroke-width="0.8"/><circle cx="262.8" cy="301.59" r="2.7" fill="#fff" stroke="#4a4a4a" stroke-width="0.8"/><circle cx="282.9" cy="298.32" r="2.7" fill="#fff" stroke="#4a4a4a" stroke-width="0.8"/><circle cx="303" cy="296.69" r="2.7" fill="#fff" stroke="#4a4a4a" stroke-width="0.8"/><circle cx="323.1" cy="295.47" r="2.7" fill="#fff" stroke="#4a4a4a" stroke-width="0.8"/><circle cx="343.2" cy="295.06" r="2.7" fill="#fff" stroke="#4a4a4a" stroke-width="0.8"/><path d="M61.8 418V421M59.4 418H64.2M59.4 421H64.2M81.9 394.56V399.56M79.5 394.56H84.3M79.5 399.56H84.3M102 373.16V380.16M99.6 373.16H104.4M99.6 380.16H104.4M122.1 355.84V364.84M119.7 355.84H124.5M119.7 364.84H124.5M142.2 342.28V352.28M139.8 342.28H144.6M139.8 352.28H144.6M162.3 330.86V340.86M159.9 330.86H164.7M159.9 340.86H164.7M182.4 321.88V331.88M180 321.88H184.8M180 331.88H184.8M202.5 313.72V323.72M200.1 313.72H204.9M200.1 323.72H204.9M222.6 306.79V316.79M220.2 306.79H225M220.2 316.79H225M242.7 300.67V310.67M240.3 300.67H245.1M240.3 310.67H245.1M262.8 296.59V306.59M260.4 296.59H265.2M260.4 306.59H265.2M282.9 293.32V303.32M280.5 293.32H285.3M280.5 303.32H285.3M303 291.69V301.69M300.6 291.69H305.4M300.6 301.69H305.4M323.1 290.47V300.47M320.7 290.47H325.5M320.7 300.47H325.5M343.2 290.06V300.06M340.8 290.06H345.6M340.8 300.06H345.6" fill="none" stroke="#585858" stroke-width="0.8"/><path d="M61.8 416.92L65.2 422.76L58.4 422.76Z" fill="#4a4a4a"/><path d="M81.9 394.88L85.3 400.73L78.5 400.73Z" fill="#4a4a4a"/><path d="M102 375.3L105.4 381.15L98.6 381.15Z" fill="#4a4a4a"/><path d="M122.1 358.98L125.5 364.83L118.7 364.83Z" fill="#4a4a4a"/><path d="M142.2 346.33L145.6 352.18L138.8 352.18Z" fill="#4a4a4a"/><path d="M162.3 335.32L165.7 341.16L158.9 341.16Z" fill="#4a4a4a"/><path d="M182.4 326.34L185.8 332.19L179 332.19Z" fill="#4a4a4a"/><path d="M202.5 318.18L205.9 324.03L199.1 324.03Z" fill="#4a4a4a"/><path d="M222.6 311.65L226 317.5L219.2 317.5Z" fill="#4a4a4a"/><path d="M242.7 305.53L246.1 311.38L239.3 311.38Z" fill="#4a4a4a"/><path d="M262.8 301.04L266.2 306.89L259.4 306.89Z" fill="#4a4a4a"/><path d="M282.9 298.19L286.3 304.04L279.5 304.04Z" fill="#4a4a4a"/><path d="M303 296.56L306.4 302.4L299.6 302.4Z" fill="#4a4a4a"/><path d="M323.1 294.92L326.5 300.77L319.7 300.77Z" fill="#4a4a4a"/><path d="M343.2 294.92L346.6 300.77L339.8 300.77Z" fill="#4a4a4a"/><path d="M61.8 418.82V421.82M59.4 418.82H64.2M59.4 421.82H64.2M81.9 395.78V400.78M79.5 395.78H84.3M79.5 400.78H84.3M102 375.2V382.2M99.6 375.2H104.4M99.6 382.2H104.4M122.1 357.88V366.88M119.7 357.88H124.5M119.7 366.88H124.5M142.2 344.73V354.73M139.8 344.73H144.6M139.8 354.73H144.6M162.3 333.72V343.72M159.9 333.72H164.7M159.9 343.72H164.7M182.4 324.74V334.74M180 324.74H184.8M180 334.74H184.8M202.5 316.58V326.58M200.1 316.58H204.9M200.1 326.58H204.9M222.6 310.05V320.05M220.2 310.05H225M220.2 320.05H225M242.7 303.93V313.93M240.3 303.93H245.1M240.3 313.93H245.1M262.8 299.44V309.44M260.4 299.44H265.2M260.4 309.44H265.2M282.9 296.59V306.59M280.5 296.59H285.3M280.5 306.59H285.3M303 294.96V304.96M300.6 294.96H305.4M300.6 304.96H305.4M323.1 293.32V303.32M320.7 293.32H325.5M320.7 303.32H325.5M343.2 293.32V303.32M340.8 293.32H345.6M340.8 303.32H345.6" fill="none" stroke="#585858" stroke-width="0.8"/><path d="M61.8 419.01L65.15 424.87L58.45 424.87Z" fill="#fff" stroke="#4a4a4a" stroke-width="0.75"/><path d="M81.9 398.61L85.25 404.47L78.55 404.47Z" fill="#fff" stroke="#4a4a4a" stroke-width="0.75"/><path d="M102 381.47L105.35 387.33L98.65 387.33Z" fill="#fff" stroke="#4a4a4a" stroke-width="0.75"/><path d="M122.1 367.19L125.45 373.05L118.75 373.05Z" fill="#fff" stroke="#4a4a4a" stroke-width="0.75"/><path d="M142.2 355.36L145.55 361.22L138.85 361.22Z" fill="#fff" stroke="#4a4a4a" stroke-width="0.75"/><path d="M162.3 345.16L165.65 351.02L158.95 351.02Z" fill="#fff" stroke="#4a4a4a" stroke-width="0.75"/><path d="M182.4 337L185.75 342.86L179.05 342.86Z" fill="#fff" stroke="#4a4a4a" stroke-width="0.75"/><path d="M202.5 330.47L205.85 336.33L199.15 336.33Z" fill="#fff" stroke="#4a4a4a" stroke-width="0.75"/><path d="M222.6 323.13L225.95 328.99L219.25 328.99Z" fill="#fff" stroke="#4a4a4a" stroke-width="0.75"/><path d="M242.7 318.64L246.05 324.5L239.35 324.5Z" fill="#fff" stroke="#4a4a4a" stroke-width="0.75"/><path d="M262.8 314.15L266.15 320.01L259.45 320.01Z" fill="#fff" stroke="#4a4a4a" stroke-width="0.75"/><path d="M282.9 311.7L286.25 317.56L279.55 317.56Z" fill="#fff" stroke="#4a4a4a" stroke-width="0.75"/><path d="M303 310.07L306.35 315.93L299.65 315.93Z" fill="#fff" stroke="#4a4a4a" stroke-width="0.75"/><path d="M323.1 309.25L326.45 315.12L319.75 315.12Z" fill="#fff" stroke="#4a4a4a" stroke-width="0.75"/><path d="M343.2 308.85L346.55 314.71L339.85 314.71Z" fill="#fff" stroke="#4a4a4a" stroke-width="0.75"/><path d="M61.8 420.86V423.86M59.4 420.86H64.2M59.4 423.86H64.2M81.9 399.46V404.46M79.5 399.46H84.3M79.5 404.46H84.3M102 381.32V388.32M99.6 381.32H104.4M99.6 388.32H104.4M122.1 366.04V375.04M119.7 366.04H124.5M119.7 375.04H124.5M142.2 353.71V363.71M139.8 353.71H144.6M139.8 363.71H144.6M162.3 343.51V353.51M159.9 343.51H164.7M159.9 353.51H164.7M182.4 335.35V345.35M180 335.35H184.8M180 345.35H184.8M202.5 328.82V338.82M200.1 328.82H204.9M200.1 338.82H204.9M222.6 321.48V331.48M220.2 321.48H225M220.2 331.48H225M242.7 316.99V326.99M240.3 316.99H245.1M240.3 326.99H245.1M262.8 312.5V322.5M260.4 312.5H265.2M260.4 322.5H265.2M282.9 310.05V320.05M280.5 310.05H285.3M280.5 320.05H285.3M303 308.42V318.42M300.6 308.42H305.4M300.6 318.42H305.4M323.1 307.6V317.6M320.7 307.6H325.5M320.7 317.6H325.5M343.2 307.2V317.2M340.8 307.2H345.6M340.8 317.2H345.6" fill="none" stroke="#585858" stroke-width="0.8"/><path d="M362 448.4 L382.22 407.85 L402.44 381.33 L422.66 356.44 L442.88 335.23 L463.1 316.87 L483.32 300.55 L503.54 289.12 L523.76 278.92 L543.98 272.4 L564.2 268.72 L584.42 265.05 L604.64 261.79 L624.86 259.34 L645.08 256.48 L665.3 255.26" fill="none" stroke="#5e5e5e" stroke-width="0.95"/><path d="M362 448.4 L382.22 416.42 L402.44 396.43 L422.66 378.88 L442.88 362.56 L463.1 347.88 L483.32 332.37 L503.54 319.72 L523.76 307.48 L543.98 300.14 L564.2 294.84 L584.42 289.94 L604.64 286.68 L624.86 284.64 L645.08 282.19 L665.3 280.96" fill="none" stroke="#5e5e5e" stroke-width="0.95"/><path d="M362 448.4 L382.22 417.64 L402.44 398.06 L422.66 381.33 L442.88 365.83 L463.1 351.55 L483.32 337.68 L503.54 325.03 L523.76 312.79 L543.98 305.04 L564.2 301.36 L584.42 296.88 L604.64 293.2 L624.86 290.76 L645.08 288.72 L665.3 287.49" fill="none" stroke="#7a7a7a" stroke-width="0.95"/><path d="M362 448.4 L382.22 418.46 L402.44 399.28 L422.66 382.96 L442.88 367.87 L463.1 353.18 L483.32 338.9 L503.54 326.25 L523.76 314.01 L543.98 307.08 L564.2 303.4 L584.42 298.92 L604.64 295.24 L624.86 293.2 L645.08 291.98 L665.3 289.94" fill="none" stroke="#7a7a7a" stroke-width="0.95"/><path d="M362 448.4 L382.22 421.72 L402.44 404.59 L422.66 389.08 L442.88 374.8 L463.1 362.56 L483.32 349.51 L503.54 338.9 L523.76 327.88 L543.98 321.76 L564.2 318.09 L584.42 313.6 L604.64 310.34 L624.86 308.71 L645.08 306.67 L665.3 305.44" fill="none" stroke="#5e5e5e" stroke-width="0.95"/><path d="M382.22 406.35V409.35M379.82 406.35H384.62M379.82 409.35H384.62M402.44 378.83V383.83M400.04 378.83H404.84M400.04 383.83H404.84M422.66 352.94V359.94M420.26 352.94H425.06M420.26 359.94H425.06M442.88 330.73V339.73M440.48 330.73H445.28M440.48 339.73H445.28M463.1 311.87V321.87M460.7 311.87H465.5M460.7 321.87H465.5M483.32 295.55V305.55M480.92 295.55H485.72M480.92 305.55H485.72M503.54 284.12V294.12M501.14 284.12H505.94M501.14 294.12H505.94M523.76 273.92V283.92M521.36 273.92H526.16M521.36 283.92H526.16M543.98 267.4V277.4M541.58 267.4H546.38M541.58 277.4H546.38M564.2 263.72V273.72M561.8 263.72H566.6M561.8 273.72H566.6M584.42 260.05V270.05M582.02 260.05H586.82M582.02 270.05H586.82M604.64 256.79V266.79M602.24 256.79H607.04M602.24 266.79H607.04M624.86 254.34V264.34M622.46 254.34H627.26M622.46 264.34H627.26M645.08 251.48V261.48M642.68 251.48H647.48M642.68 261.48H647.48M665.3 250.26V260.26M662.9 250.26H667.7M662.9 260.26H667.7" fill="none" stroke="#585858" stroke-width="0.8"/><path d="M382.22 404.75L385.62 407.85L382.22 410.95L378.82 407.85Z" fill="#fff" stroke="#4a4a4a" stroke-width="0.8"/><path d="M402.44 378.23L405.84 381.33L402.44 384.43L399.04 381.33Z" fill="#fff" stroke="#4a4a4a" stroke-width="0.8"/><path d="M422.66 353.34L426.06 356.44L422.66 359.54L419.26 356.44Z" fill="#fff" stroke="#4a4a4a" stroke-width="0.8"/><path d="M442.88 332.13L446.28 335.23L442.88 338.33L439.48 335.23Z" fill="#fff" stroke="#4a4a4a" stroke-width="0.8"/><path d="M463.1 313.77L466.5 316.87L463.1 319.97L459.7 316.87Z" fill="#fff" stroke="#4a4a4a" stroke-width="0.8"/><path d="M483.32 297.45L486.72 300.55L483.32 303.65L479.92 300.55Z" fill="#fff" stroke="#4a4a4a" stroke-width="0.8"/><path d="M503.54 286.02L506.94 289.12L503.54 292.22L500.14 289.12Z" fill="#fff" stroke="#4a4a4a" stroke-width="0.8"/><path d="M523.76 275.82L527.16 278.92L523.76 282.02L520.36 278.92Z" fill="#fff" stroke="#4a4a4a" stroke-width="0.8"/><path d="M543.98 269.3L547.38 272.4L543.98 275.5L540.58 272.4Z" fill="#fff" stroke="#4a4a4a" stroke-width="0.8"/><path d="M564.2 265.62L567.6 268.72L564.2 271.82L560.8 268.72Z" fill="#fff" stroke="#4a4a4a" stroke-width="0.8"/><path d="M584.42 261.95L587.82 265.05L584.42 268.15L581.02 265.05Z" fill="#fff" stroke="#4a4a4a" stroke-width="0.8"/><path d="M604.64 258.69L608.04 261.79L604.64 264.89L601.24 261.79Z" fill="#fff" stroke="#4a4a4a" stroke-width="0.8"/><path d="M624.86 256.24L628.26 259.34L624.86 262.44L621.46 259.34Z" fill="#fff" stroke="#4a4a4a" stroke-width="0.8"/><path d="M645.08 253.38L648.48 256.48L645.08 259.58L641.68 256.48Z" fill="#fff" stroke="#4a4a4a" stroke-width="0.8"/><path d="M665.3 252.16L668.7 255.26L665.3 258.36L661.9 255.26Z" fill="#fff" stroke="#4a4a4a" stroke-width="0.8"/><circle cx="382.22" cy="416.42" r="3.1" fill="#4a4a4a"/><circle cx="402.44" cy="396.43" r="3.1" fill="#4a4a4a"/><circle cx="422.66" cy="378.88" r="3.1" fill="#4a4a4a"/><circle cx="442.88" cy="362.56" r="3.1" fill="#4a4a4a"/><circle cx="463.1" cy="347.88" r="3.1" fill="#4a4a4a"/><circle cx="483.32" cy="332.37" r="3.1" fill="#4a4a4a"/><circle cx="503.54" cy="319.72" r="3.1" fill="#4a4a4a"/><circle cx="523.76" cy="307.48" r="3.1" fill="#4a4a4a"/><circle cx="543.98" cy="300.14" r="3.1" fill="#4a4a4a"/><circle cx="564.2" cy="294.84" r="3.1" fill="#4a4a4a"/><circle cx="584.42" cy="289.94" r="3.1" fill="#4a4a4a"/><circle cx="604.64" cy="286.68" r="3.1" fill="#4a4a4a"/><circle cx="624.86" cy="284.64" r="3.1" fill="#4a4a4a"/><circle cx="645.08" cy="282.19" r="3.1" fill="#4a4a4a"/><circle cx="665.3" cy="280.96" r="3.1" fill="#4a4a4a"/><path d="M382.22 414.92V417.92M379.82 414.92H384.62M379.82 417.92H384.62M402.44 393.93V398.93M400.04 393.93H404.84M400.04 398.93H404.84M422.66 375.38V382.38M420.26 375.38H425.06M420.26 382.38H425.06M442.88 358.06V367.06M440.48 358.06H445.28M440.48 367.06H445.28M463.1 342.88V352.88M460.7 342.88H465.5M460.7 352.88H465.5M483.32 327.37V337.37M480.92 327.37H485.72M480.92 337.37H485.72M503.54 314.72V324.72M501.14 314.72H505.94M501.14 324.72H505.94M523.76 302.48V312.48M521.36 302.48H526.16M521.36 312.48H526.16M543.98 295.14V305.14M541.58 295.14H546.38M541.58 305.14H546.38M564.2 289.84V299.84M561.8 289.84H566.6M561.8 299.84H566.6M584.42 284.94V294.94M582.02 284.94H586.82M582.02 294.94H586.82M604.64 281.68V291.68M602.24 281.68H607.04M602.24 291.68H607.04M624.86 279.64V289.64M622.46 279.64H627.26M622.46 289.64H627.26M645.08 277.19V287.19M642.68 277.19H647.48M642.68 287.19H647.48M665.3 275.96V285.96M662.9 275.96H667.7M662.9 285.96H667.7" fill="none" stroke="#585858" stroke-width="0.8"/><circle cx="382.22" cy="417.64" r="2.7" fill="#fff" stroke="#4a4a4a" stroke-width="0.8"/><circle cx="402.44" cy="398.06" r="2.7" fill="#fff" stroke="#4a4a4a" stroke-width="0.8"/><circle cx="422.66" cy="381.33" r="2.7" fill="#fff" stroke="#4a4a4a" stroke-width="0.8"/><circle cx="442.88" cy="365.83" r="2.7" fill="#fff" stroke="#4a4a4a" stroke-width="0.8"/><circle cx="463.1" cy="351.55" r="2.7" fill="#fff" stroke="#4a4a4a" stroke-width="0.8"/><circle cx="483.32" cy="337.68" r="2.7" fill="#fff" stroke="#4a4a4a" stroke-width="0.8"/><circle cx="503.54" cy="325.03" r="2.7" fill="#fff" stroke="#4a4a4a" stroke-width="0.8"/><circle cx="523.76" cy="312.79" r="2.7" fill="#fff" stroke="#4a4a4a" stroke-width="0.8"/><circle cx="543.98" cy="305.04" r="2.7" fill="#fff" stroke="#4a4a4a" stroke-width="0.8"/><circle cx="564.2" cy="301.36" r="2.7" fill="#fff" stroke="#4a4a4a" stroke-width="0.8"/><circle cx="584.42" cy="296.88" r="2.7" fill="#fff" stroke="#4a4a4a" stroke-width="0.8"/><circle cx="604.64" cy="293.2" r="2.7" fill="#fff" stroke="#4a4a4a" stroke-width="0.8"/><circle cx="624.86" cy="290.76" r="2.7" fill="#fff" stroke="#4a4a4a" stroke-width="0.8"/><circle cx="645.08" cy="288.72" r="2.7" fill="#fff" stroke="#4a4a4a" stroke-width="0.8"/><circle cx="665.3" cy="287.49" r="2.7" fill="#fff" stroke="#4a4a4a" stroke-width="0.8"/><path d="M382.22 416.14V419.14M379.82 416.14H384.62M379.82 419.14H384.62M402.44 395.56V400.56M400.04 395.56H404.84M400.04 400.56H404.84M422.66 377.83V384.83M420.26 377.83H425.06M420.26 384.83H425.06M442.88 361.33V370.33M440.48 361.33H445.28M440.48 370.33H445.28M463.1 346.55V356.55M460.7 346.55H465.5M460.7 356.55H465.5M483.32 332.68V342.68M480.92 332.68H485.72M480.92 342.68H485.72M503.54 320.03V330.03M501.14 320.03H505.94M501.14 330.03H505.94M523.76 307.79V317.79M521.36 307.79H526.16M521.36 317.79H526.16M543.98 300.04V310.04M541.58 300.04H546.38M541.58 310.04H546.38M564.2 296.36V306.36M561.8 296.36H566.6M561.8 306.36H566.6M584.42 291.88V301.88M582.02 291.88H586.82M582.02 301.88H586.82M604.64 288.2V298.2M602.24 288.2H607.04M602.24 298.2H607.04M624.86 285.76V295.76M622.46 285.76H627.26M622.46 295.76H627.26M645.08 283.72V293.72M642.68 283.72H647.48M642.68 293.72H647.48M665.3 282.49V292.49M662.9 282.49H667.7M662.9 292.49H667.7" fill="none" stroke="#585858" stroke-width="0.8"/><path d="M382.22 415.06L385.62 420.91L378.82 420.91Z" fill="#4a4a4a"/><path d="M402.44 395.88L405.84 401.73L399.04 401.73Z" fill="#4a4a4a"/><path d="M422.66 379.56L426.06 385.41L419.26 385.41Z" fill="#4a4a4a"/><path d="M442.88 364.47L446.28 370.32L439.48 370.32Z" fill="#4a4a4a"/><path d="M463.1 349.78L466.5 355.63L459.7 355.63Z" fill="#4a4a4a"/><path d="M483.32 335.5L486.72 341.35L479.92 341.35Z" fill="#4a4a4a"/><path d="M503.54 322.85L506.94 328.7L500.14 328.7Z" fill="#4a4a4a"/><path d="M523.76 310.61L527.16 316.46L520.36 316.46Z" fill="#4a4a4a"/><path d="M543.98 303.68L547.38 309.52L540.58 309.52Z" fill="#4a4a4a"/><path d="M564.2 300L567.6 305.85L560.8 305.85Z" fill="#4a4a4a"/><path d="M584.42 295.52L587.82 301.36L581.02 301.36Z" fill="#4a4a4a"/><path d="M604.64 291.84L608.04 297.69L601.24 297.69Z" fill="#4a4a4a"/><path d="M624.86 289.8L628.26 295.65L621.46 295.65Z" fill="#4a4a4a"/><path d="M645.08 288.58L648.48 294.43L641.68 294.43Z" fill="#4a4a4a"/><path d="M665.3 286.54L668.7 292.39L661.9 292.39Z" fill="#4a4a4a"/><path d="M382.22 416.96V419.96M379.82 416.96H384.62M379.82 419.96H384.62M402.44 396.78V401.78M400.04 396.78H404.84M400.04 401.78H404.84M422.66 379.46V386.46M420.26 379.46H425.06M420.26 386.46H425.06M442.88 363.37V372.37M440.48 363.37H445.28M440.48 372.37H445.28M463.1 348.18V358.18M460.7 348.18H465.5M460.7 358.18H465.5M483.32 333.9V343.9M480.92 333.9H485.72M480.92 343.9H485.72M503.54 321.25V331.25M501.14 321.25H505.94M501.14 331.25H505.94M523.76 309.01V319.01M521.36 309.01H526.16M521.36 319.01H526.16M543.98 302.08V312.08M541.58 302.08H546.38M541.58 312.08H546.38M564.2 298.4V308.4M561.8 298.4H566.6M561.8 308.4H566.6M584.42 293.92V303.92M582.02 293.92H586.82M582.02 303.92H586.82M604.64 290.24V300.24M602.24 290.24H607.04M602.24 300.24H607.04M624.86 288.2V298.2M622.46 288.2H627.26M622.46 298.2H627.26M645.08 286.98V296.98M642.68 286.98H647.48M642.68 296.98H647.48M665.3 284.94V294.94M662.9 284.94H667.7M662.9 294.94H667.7" fill="none" stroke="#585858" stroke-width="0.8"/><path d="M382.22 418.37L385.57 424.24L378.87 424.24Z" fill="#fff" stroke="#4a4a4a" stroke-width="0.75"/><path d="M402.44 401.24L405.79 407.1L399.09 407.1Z" fill="#fff" stroke="#4a4a4a" stroke-width="0.75"/><path d="M422.66 385.73L426.01 391.6L419.31 391.6Z" fill="#fff" stroke="#4a4a4a" stroke-width="0.75"/><path d="M442.88 371.45L446.23 377.32L439.53 377.32Z" fill="#fff" stroke="#4a4a4a" stroke-width="0.75"/><path d="M463.1 359.21L466.45 365.08L459.75 365.08Z" fill="#fff" stroke="#4a4a4a" stroke-width="0.75"/><path d="M483.32 346.16L486.67 352.02L479.97 352.02Z" fill="#fff" stroke="#4a4a4a" stroke-width="0.75"/><path d="M503.54 335.55L506.89 341.41L500.19 341.41Z" fill="#fff" stroke="#4a4a4a" stroke-width="0.75"/><path d="M523.76 324.53L527.11 330.4L520.41 330.4Z" fill="#fff" stroke="#4a4a4a" stroke-width="0.75"/><path d="M543.98 318.41L547.33 324.28L540.63 324.28Z" fill="#fff" stroke="#4a4a4a" stroke-width="0.75"/><path d="M564.2 314.74L567.55 320.6L560.85 320.6Z" fill="#fff" stroke="#4a4a4a" stroke-width="0.75"/><path d="M584.42 310.25L587.77 316.12L581.07 316.12Z" fill="#fff" stroke="#4a4a4a" stroke-width="0.75"/><path d="M604.64 306.99L607.99 312.85L601.29 312.85Z" fill="#fff" stroke="#4a4a4a" stroke-width="0.75"/><path d="M624.86 305.36L628.21 311.22L621.51 311.22Z" fill="#fff" stroke="#4a4a4a" stroke-width="0.75"/><path d="M645.08 303.32L648.43 309.18L641.73 309.18Z" fill="#fff" stroke="#4a4a4a" stroke-width="0.75"/><path d="M665.3 302.09L668.65 307.96L661.95 307.96Z" fill="#fff" stroke="#4a4a4a" stroke-width="0.75"/><path d="M382.22 420.22V423.22M379.82 420.22H384.62M379.82 423.22H384.62M402.44 402.09V407.09M400.04 402.09H404.84M400.04 407.09H404.84M422.66 385.58V392.58M420.26 385.58H425.06M420.26 392.58H425.06M442.88 370.3V379.3M440.48 370.3H445.28M440.48 379.3H445.28M463.1 357.56V367.56M460.7 357.56H465.5M460.7 367.56H465.5M483.32 344.51V354.51M480.92 344.51H485.72M480.92 354.51H485.72M503.54 333.9V343.9M501.14 333.9H505.94M501.14 343.9H505.94M523.76 322.88V332.88M521.36 322.88H526.16M521.36 332.88H526.16M543.98 316.76V326.76M541.58 316.76H546.38M541.58 326.76H546.38M564.2 313.09V323.09M561.8 313.09H566.6M561.8 323.09H566.6M584.42 308.6V318.6M582.02 308.6H586.82M582.02 318.6H586.82M604.64 305.34V315.34M602.24 305.34H607.04M602.24 315.34H607.04M624.86 303.71V313.71M622.46 303.71H627.26M622.46 313.71H627.26M645.08 301.67V311.67M642.68 301.67H647.48M642.68 311.67H647.48M665.3 300.44V310.44M662.9 300.44H667.7M662.9 310.44H667.7" fill="none" stroke="#585858" stroke-width="0.8"/><line x1="243.3" y1="144.5" x2="269.3" y2="144.5" stroke="#707070" stroke-width="1"/><path d="M256.4 141.4L259.8 144.5L256.4 147.6L253 144.5Z" fill="#fff" stroke="#4a4a4a" stroke-width="0.8"/><text x="271.9" y="148.4" class="lg">CK</text><line x1="243.3" y1="158.5" x2="269.3" y2="158.5" stroke="#606060" stroke-width="1"/><circle cx="256.4" cy="158.5" r="3.1" fill="#4a4a4a"/><text x="271.9" y="162.5" class="lg">T1P1</text><line x1="243.3" y1="172.5" x2="269.3" y2="172.5" stroke="#b0b0b0" stroke-width="1.3"/><circle cx="256.4" cy="172.5" r="2.7" fill="#fff" stroke="#4a4a4a" stroke-width="0.8"/><text x="271.9" y="176.6" class="lg">T2P1</text><line x1="243.3" y1="186.5" x2="269.3" y2="186.5" stroke="#a0a0a0" stroke-width="1.2"/><path d="M256.4 183.1L259.8 188.95L253 188.95Z" fill="#4a4a4a"/><text x="271.9" y="190.7" class="lg">T3P1</text><line x1="243.3" y1="201.5" x2="269.3" y2="201.5" stroke="#666" stroke-width="1"/><path d="M256.4 198.15L259.75 204.01L253.05 204.01Z" fill="#fff" stroke="#4a4a4a" stroke-width="0.75"/><text x="271.9" y="204.9" class="lg">T4P1</text><line x1="567.4" y1="147.5" x2="593.8" y2="147.5" stroke="#c0c0c0" stroke-width="1.5"/><path d="M580.5 144.4L583.9 147.5L580.5 150.6L577.1 147.5Z" fill="#fff" stroke="#4a4a4a" stroke-width="0.8"/><text x="596.4" y="151.1" class="lg">CK</text><line x1="567.4" y1="161.5" x2="593.8" y2="161.5" stroke="#999" stroke-width="1.2"/><circle cx="580.5" cy="161.5" r="3.1" fill="#4a4a4a"/><text x="596.4" y="165.3" class="lg">T1P2</text><line x1="567.4" y1="175.5" x2="593.8" y2="175.5" stroke="#888" stroke-width="1"/><circle cx="580.5" cy="175.5" r="2.7" fill="#fff" stroke="#4a4a4a" stroke-width="0.8"/><text x="596.4" y="179.5" class="lg">T2P2</text><line x1="567.4" y1="189.5" x2="593.8" y2="189.5" stroke="#777" stroke-width="1"/><path d="M580.5 186.1L583.9 191.95L577.1 191.95Z" fill="#4a4a4a"/><text x="596.4" y="193.5" class="lg">T3P2</text><line x1="567.4" y1="203.5" x2="593.8" y2="203.5" stroke="#888" stroke-width="1"/><path d="M580.5 200.15L583.85 206.01L577.15 206.01Z" fill="#fff" stroke="#4a4a4a" stroke-width="0.75"/><text x="596.4" y="207.6" class="lg">T4P2</text><line x1="244.6" y1="372.5" x2="269.9" y2="372.5" stroke="#888" stroke-width="1"/><path d="M257.2 369.4L260.6 372.5L257.2 375.6L253.8 372.5Z" fill="#fff" stroke="#4a4a4a" stroke-width="0.8"/><text x="273" y="376.1" class="lg">CK</text><line x1="244.6" y1="386.5" x2="269.9" y2="386.5" stroke="#666" stroke-width="1"/><circle cx="257.2" cy="386.5" r="3.1" fill="#4a4a4a"/><text x="273" y="390.3" class="lg">T1P3</text><line x1="244.6" y1="400.5" x2="269.9" y2="400.5" stroke="#999" stroke-width="1"/><circle cx="257.2" cy="400.5" r="2.7" fill="#fff" stroke="#4a4a4a" stroke-width="0.8"/><text x="273" y="404.5" class="lg">T2P3</text><line x1="244.6" y1="414.5" x2="269.9" y2="414.5" stroke="#a8a8a8" stroke-width="1.4"/><path d="M257.2 411.1L260.6 416.95L253.8 416.95Z" fill="#4a4a4a"/><text x="273" y="418.7" class="lg">T3P3</text><line x1="244.6" y1="429.5" x2="269.9" y2="429.5" stroke="#888" stroke-width="1"/><path d="M257.2 426.15L260.55 432.01L253.85 432.01Z" fill="#fff" stroke="#4a4a4a" stroke-width="0.75"/><text x="273" y="432.9" class="lg">T4P3</text><line x1="565.5" y1="370.5" x2="591.3" y2="370.5" stroke="#999" stroke-width="1"/><path d="M578.4 367.4L581.8 370.5L578.4 373.6L575 370.5Z" fill="#fff" stroke="#4a4a4a" stroke-width="0.8"/><text x="594.7" y="374.4" class="lg">CK</text><line x1="565.5" y1="384.5" x2="591.3" y2="384.5" stroke="#777" stroke-width="1"/><circle cx="578.4" cy="384.5" r="3.1" fill="#4a4a4a"/><text x="594.7" y="388.6" class="lg">T1P4</text><line x1="565.5" y1="399.5" x2="591.3" y2="399.5" stroke="#999" stroke-width="1"/><circle cx="578.4" cy="399.5" r="2.7" fill="#fff" stroke="#4a4a4a" stroke-width="0.8"/><text x="594.7" y="402.9" class="lg">T2P4</text><line x1="565.5" y1="413.5" x2="591.3" y2="413.5" stroke="#777" stroke-width="1"/><path d="M578.4 410.1L581.8 415.95L575 415.95Z" fill="#4a4a4a"/><text x="594.7" y="417.2" class="lg">T3P4</text><line x1="565.5" y1="427.5" x2="591.3" y2="427.5" stroke="#999" stroke-width="1"/><path d="M578.4 424.15L581.75 430.01L575.05 430.01Z" fill="#fff" stroke="#4a4a4a" stroke-width="0.75"/><text x="594.7" y="431.5" class="lg">T4P4</text>
<path d="M0 0.7H684" stroke="#555" stroke-width="1.6"/><rect x="684" y="1" width="1" height="450" fill="#e4e4e4"/><path d="M41.2 0V225.3" stroke="#7a7a7a" stroke-width="1.65" fill="none"/><path d="M41.7 225.3V451" stroke="#6a6a6a" stroke-width="1.6" fill="none"/><path d="M362.5 0V225.3" stroke="#444" stroke-width="1.25" fill="none"/><path d="M361.8 225.3V452" stroke="#707070" stroke-width="1.6" fill="none"/><path d="M44.4 225.4H362.5M362.5 225.4H363.6M367 225.4H685" stroke="#474747" stroke-width="1.3" fill="none"/><path d="M44.5 450.2H361.8" stroke="#6a6a6a" stroke-width="1.6" fill="none"/><path d="M365 451.35H685" stroke="#555" stroke-width="1.3" fill="none"/><path d="M41.5 222.6L44.4 225.3M364.1 222.6L367 225.3M41.7 447.4L44.5 450.1M362 448.5L365 451.2" stroke="#505050" stroke-width="1.0" fill="none"/><path d="M37.3 225.3H41.5M39.3 204.9H41.5M37.3 184.5H41.5M39.3 164.1H41.5M37.3 143.7H41.5M39.3 123.3H41.5M37.3 102.9H41.5M39.3 82.5H41.5M37.3 62.1H41.5M39.3 41.7H41.5M37.3 21.3H41.5M39.3 0.9H41.5M37.3 450.1H41.5M39.3 429.7H41.5M37.3 409.3H41.5M39.3 388.9H41.5M37.3 368.5H41.5M39.3 348.1H41.5M37.3 327.7H41.5M39.3 307.3H41.5M37.3 286.9H41.5M39.3 266.5H41.5M37.3 246.1H41.5M39.3 225.7H41.5M41.7 450.1V454.3M142.3 450.1V454.3M242.9 450.1V454.3M343.4 450.1V454.3M92 450.1V452.2M192.6 450.1V452.2M293.2 450.1V452.2M361.9 451.2V455.4M462.9 451.2V455.4M564.1 451.2V455.4M665.3 451.2V455.4" stroke="#505050" stroke-width="1.1" fill="none"/>
<text x="34.2" y="228.6" class="tk" text-anchor="end">0</text><text x="34.2" y="187.8" class="tk" text-anchor="end">10</text><text x="34.2" y="147" class="tk" text-anchor="end">20</text><text x="34.2" y="106.2" class="tk" text-anchor="end">30</text><text x="34.2" y="65.4" class="tk" text-anchor="end">40</text><text x="34.2" y="24.6" class="tk" text-anchor="end">50</text><text x="34.2" y="453.4" class="tk" text-anchor="end">0</text><text x="34.2" y="412.6" class="tk" text-anchor="end">10</text><text x="34.2" y="371.8" class="tk" text-anchor="end">20</text><text x="34.2" y="331" class="tk" text-anchor="end">30</text><text x="34.2" y="290.2" class="tk" text-anchor="end">40</text><text x="34.2" y="249.4" class="tk" text-anchor="end">50</text><text x="41.7" y="464.5" class="tk" text-anchor="middle">0</text><text x="142.3" y="464.5" class="tk" text-anchor="middle">5</text><text x="242.9" y="464.5" class="tk" text-anchor="middle">10</text><text x="343.4" y="464.5" class="tk" text-anchor="middle">15</text><text x="361.9" y="465.6" class="tk" text-anchor="middle">0</text><text x="462.9" y="465.6" class="tk" text-anchor="middle">5</text><text x="564.1" y="465.6" class="tk" text-anchor="middle">10</text><text x="665.3" y="465.6" class="tk" text-anchor="middle">15</text><text x="73.8" y="26.4" class="ti">P</text><text transform="translate(92.9,26.4) scale(0.66,1)" text-anchor="middle" class="ti">1</text><text x="395.6" y="25.9" class="ti">P2</text><text x="71.6" y="251.6" class="ti">P3</text><text x="392.6" y="252.0" class="ti">P4</text><text x="337.8" y="489.5" class="at">Time (d)</text><text transform="translate(13.0,325.9) rotate(-90)" x="0" y="0" class="at">Cumulative evaporation (mm)</text>
</svg>
</body></html>
